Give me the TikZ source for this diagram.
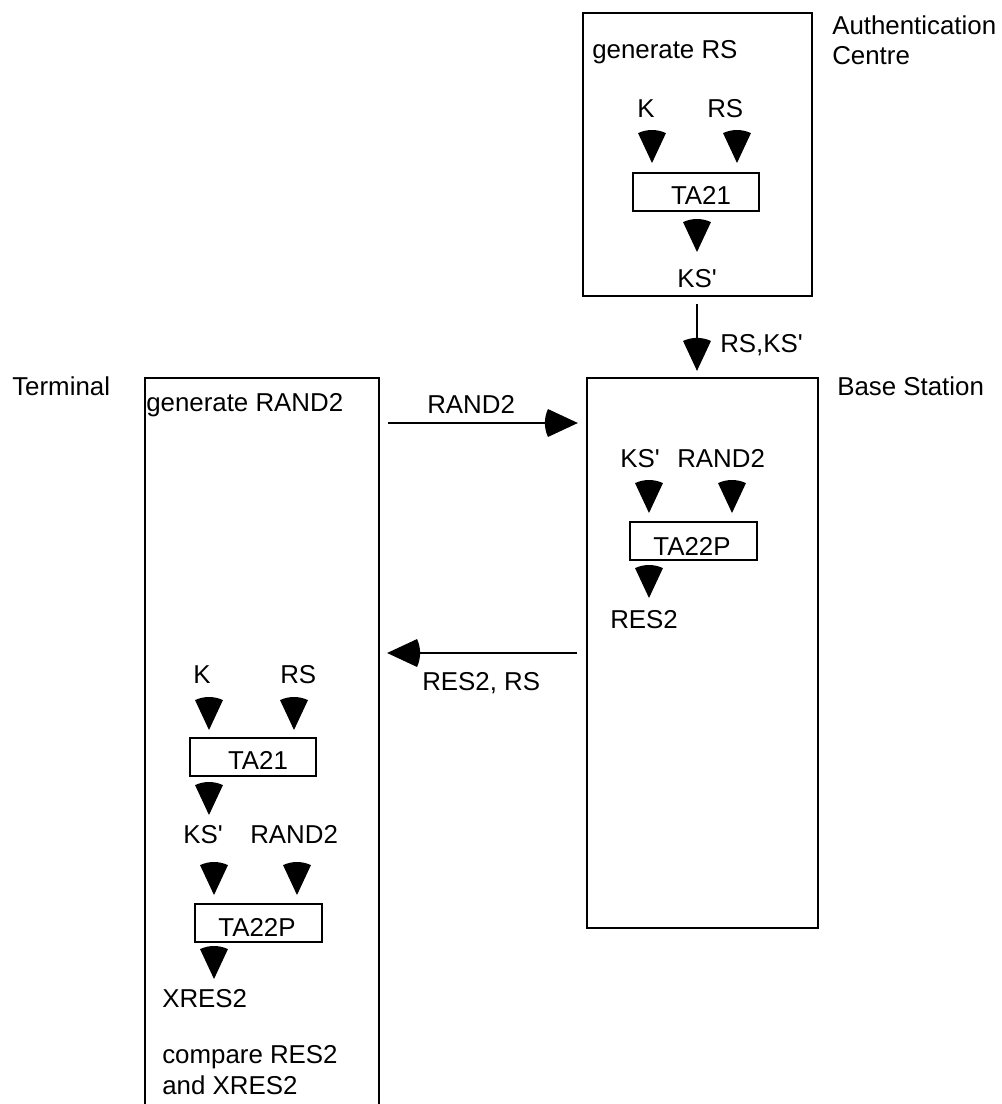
\documentclass[tikz,border=0pt]{standalone}
\usepackage{fontspec}
\setmainfont{Liberation Sans}[Ligatures=TeXOff]
\usetikzlibrary{fit,arrows.meta}
\pgfdeclarearrow{
  name = Wedge,
  parameters = {\the\pgfarrowlength},
  setup code = {
    \pgfarrowssettipend{0pt}
    \pgfarrowssetbackend{-\pgfarrowlength}
    \pgfarrowssetlineend{-0.5\pgfarrowlength}
    \pgfarrowssavethe\pgfarrowlength
  },
  drawing code = {
    \pgfpathmoveto{\pgfpointorigin}
    \pgfpathlineto{\pgfpoint{-0.906\pgfarrowlength}{0.423\pgfarrowlength}}
    \pgfpathcurveto{\pgfpoint{-1.031\pgfarrowlength}{0.155\pgfarrowlength}}{\pgfpoint{-1.031\pgfarrowlength}{-0.155\pgfarrowlength}}{\pgfpoint{-0.906\pgfarrowlength}{-0.423\pgfarrowlength}}
    \pgfpathclose
    \pgfusepathqfill
  },
  defaults = {length = 24.75pt}
}
\begin{document}
\begin{tikzpicture}[x=0.75pt,y=-0.75pt,
  every node/.style={font=\fontsize{19.4}{23}\selectfont, inner sep=0pt},
  txt/.style={anchor=base west},
  ctxt/.style={anchor=base},
  bigbox/.style={draw, line width=1.7pt, inner sep=0pt},
  fnbox/.style={draw, line width=1.5pt, inner sep=0pt},
  conn/.style={line width=1.6pt, -{Wedge}},
  wedgeonly/.style={line width=0.4pt, -{Wedge}}]
\useasboundingbox (0,0) rectangle (1001,1104);
\clip (0,0) rectangle (1001,1104);

% ---------- Authentication Centre ----------
\node[bigbox, fit={(583,13) (812,296)}] (ac) {};
\node[anchor=north west, align=left] (aclbl) at (832,15) {Authentication\\Centre};
\node[txt] (genrs) at (592,58) {generate RS};
\node[txt] (acK) at (637,117) {K};
\node[txt] (acRS) at (707,117) {RS};
\node[fnbox, fit={(633,173) (759,211)}] (acta) {};
\node[ctxt] (actat) at (701,204) {TA21};
\node[txt] (acKS) at (677,287) {KS'};
\draw[wedgeonly] (652,130) -- (652,163);
\draw[wedgeonly] (737,130) -- (737,163);
\draw[wedgeonly] (697,219) -- (697,252);

% ---------- Base Station ----------
\node[bigbox, fit={(587,378) (818,928)}] (bs) {};
\node[txt] (bslbl) at (837,395) {Base Station};
\node[txt] (bsKS) at (620,467) {KS'};
\node[txt] (bsRAND) at (677,467) {RAND2};
\node[fnbox, fit={(630,522) (757,560)}] (bsta) {};
\node[ctxt] (bstat) at (692,555) {TA22P};
\node[txt] (bsRES) at (610,628) {RES2};
\draw[wedgeonly] (649,480) -- (649,513);
\draw[wedgeonly] (732,480) -- (732,513);
\draw[wedgeonly] (649,565) -- (649,598);

% ---------- Terminal ----------
\node[bigbox, fit={(145,378) (379,1130)}] (term) {};
\node[txt] (termlbl) at (12,395) {Terminal};
\node[txt] (genrand) at (146,411) {generate RAND2};
\node[txt] (tK) at (193,683) {K};
\node[txt] (tRS) at (280,683) {RS};
\node[fnbox, fit={(190,738) (316,776)}] (tta1) {};
\node[ctxt] (tta1t) at (258,769) {TA21};
\node[txt] (tKS) at (183,843) {KS'};
\node[txt] (tRAND) at (250,843) {RAND2};
\node[fnbox, fit={(195,904) (322,942)}] (tta2) {};
\node[ctxt] (tta2t) at (257,936) {TA22P};
\node[txt] (tXRES) at (162,1007) {XRES2};
\node[anchor=north west, align=left] (tcmp) at (162,1045) {compare RES2\\and XRES2};
\draw[wedgeonly] (209,697) -- (209,730);
\draw[wedgeonly] (294,697) -- (294,730);
\draw[wedgeonly] (209,782) -- (209,815);
\draw[wedgeonly] (214,862) -- (214,895);
\draw[wedgeonly] (297,862) -- (297,895);
\draw[wedgeonly] (214,946) -- (214,979);

% ---------- messages ----------
\coordinate (acx) at (697,0);
\coordinate (ry) at (0,423);
\coordinate (sy) at (0,653);
\draw[conn, shorten <=5.25pt, shorten >=4.5pt] (ac.south -| acx) -- (bs.north -| acx);
\node[txt] (m1) at (720,352) {RS,KS'};
\draw[conn, shorten <=6pt, shorten >=6pt] (term.east |- ry) -- (bs.west |- ry);
\node[txt] (m2) at (427,413) {RAND2};
\draw[conn, shorten <=6.75pt, shorten >=5.25pt] (bs.west |- sy) -- (term.east |- sy);
\node[txt] (m3) at (422,690) {RES2, RS};
\end{tikzpicture}
\end{document}
